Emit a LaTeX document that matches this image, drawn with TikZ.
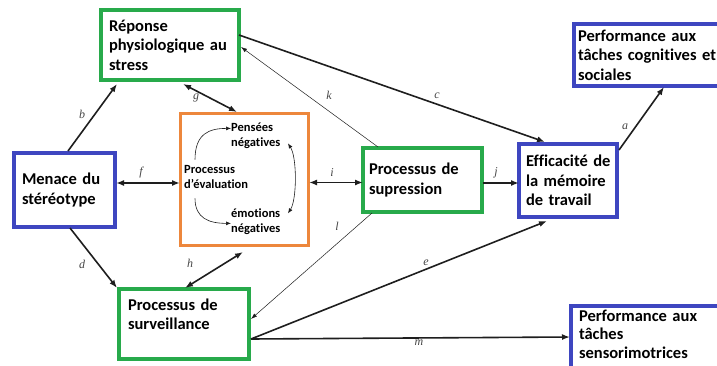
\documentclass[tikz,border=0pt]{standalone}
\usepackage{fontspec}
\setmainfont{Carlito}[Ligatures=NoCommon]
\newfontfamily\labfont{Liberation Serif}
\usetikzlibrary{arrows.meta,calc}
\definecolor{bgreen}{RGB}{40,170,75}
\definecolor{bblue}{RGB}{62,70,192}
\definecolor{borange}{RGB}{237,135,60}
\definecolor{lgray}{RGB}{70,70,70}
\definecolor{ink}{RGB}{30,30,30}
\begin{document}
\begin{tikzpicture}[x=1pt,y=-1pt,
  boxtext/.style={font=\bfseries\fontsize{16.5}{19.5}\selectfont,align=left},
  basebox/.style={rectangle,anchor=north west,line width=4pt,outer sep=0pt,inner ysep=0pt,boxtext},
  gbox/.style={basebox,draw=bgreen},
  bbox/.style={basebox,draw=bblue},
  obox/.style={rectangle,anchor=north west,line width=3pt,outer sep=0pt,draw=borange},
  itext/.style={font=\bfseries\fontsize{12.5}{15}\selectfont,align=left,inner sep=0pt,anchor=west},
  conn/.style={draw=ink,line width=1.6pt,-{Latex[length=8pt,width=6pt]}},
  dconn/.style={draw=ink,line width=1.6pt,{Latex[length=8pt,width=6pt]}-{Latex[length=8pt,width=6pt]}},
  tconn/.style={draw=ink,line width=0.5pt,-{Latex[length=6pt,width=4pt]}},
  iconn/.style={draw=ink,line width=0.6pt,-{Latex[length=5pt,width=4pt]}},
  idconn/.style={draw=ink,line width=0.6pt,{Latex[length=5pt,width=4pt]}-{Latex[length=5pt,width=4pt]}},
  lab/.style={font=\labfont\itshape\fontsize{12}{12}\selectfont,text=lgray,inner sep=0pt}
]
\useasboundingbox (0,0) rectangle (717,366);
\fill[white] (0,0) rectangle (717,366);

% boxes
\node[gbox,minimum width=138pt,minimum height=70pt,text width=122pt,inner xsep=8pt] (rep) at (101,10) {Réponse\\physiologique~au\\stress};
\node[bbox,minimum width=150pt,minimum height=62pt,text width=142pt,inner xsep=4pt] (perfC) at (574,24) {Performance~aux\\tâches~cognitives~et\\sociales};
\node[bbox,minimum width=101pt,minimum height=74pt,text width=85pt,inner xsep=8pt] (men) at (14,153) {Menace~du\\stéréotype};
\node[obox,minimum width=128pt,minimum height=131pt] (eval) at (180,114) {};
\node[gbox,minimum width=119pt,minimum height=64pt,text width=107pt,inner xsep=6pt] (sup) at (363,148) {Processus~de\\supression};
\node[bbox,minimum width=98pt,minimum height=73pt,text width=84pt,inner xsep=7pt] (eff) at (519,144) {Efficacité~de\\la~mémoire\\de~travail};
\node[gbox,minimum width=130pt,minimum height=70pt,text width=112pt,inner xsep=9pt] (surv) at (119,289) {Processus~de\\surveillance\\\mbox{}};
\node[bbox,minimum width=150pt,text width=134pt,inner xsep=8pt,inner ysep=4pt,font=\bfseries\fontsize{16.5}{18.5}\selectfont] (perfS) at (571,306) {Performance~aux\\tâches\\sensorimotrices\\\mbox{}};

% inner texts
\node[itext] (pens) at (231,135.5) {Pensées\\négatives};
\node[itext] (proc) at (184,176.5) {Processus\\d'évaluation};
\node[itext] (emo) at (231,221.5) {émotions\\négatives};

% inner arrows
\draw[iconn] ($(proc.north west)+(11,-5)$) .. controls +(0,-26) and +(-22,0) .. ($(pens.north west)+(0,6)$);
\draw[iconn] ($(proc.south west)+(11,10)$) .. controls +(0,20) and +(-22,0) .. ($(emo.north west)+(0,15)$);
\draw[idconn] ($(pens.north west)+(57,21)$) .. controls +(9,14) and +(9,-14) .. ($(emo.north west)+(57,5)$);

% connectors
\draw[conn] ($(men.north west)+(54,-2)$) -- ($(rep.south west)+(16,4)$);
\draw[conn] ($(men.south west)+(56,1)$) -- ($(surv.north west)+(-2,-1)$);
\coordinate (fA) at ($(men.east)+(1,-7)$);
\draw[dconn] (fA) -- (fA -| eval.west);
\draw[dconn] ($(rep.south west)+(82,4)$) -- ($(eval.north west)+(57,-2)$);
\draw[dconn] ($(surv.north west)+(66,-1)$) -- ($(eval.south west)+(63,7)$);
\coordinate (iA) at ($(eval.east)+(1,3)$);
\draw[dconn] (iA) -- (iA -| sup.west);
\coordinate (jA) at ($(sup.east)+(1,3)$);
\draw[conn] (jA) -- (jA -| eff.west);
\draw[tconn] ($(sup.north west)+(15,-1)$) -- ($(rep.north east)+(2,37)$);
\draw[tconn] ($(sup.south west)+(9,1)$) -- ($(surv.north east)+(2,30)$);
\draw[conn] ($(rep.north east)+(0,25)$) -- ($(eff.north west)+(26,-2)$);
\coordinate (sS) at ($(surv.north east)+(2,50)$);
\draw[conn] (sS) -- ($(eff.south west)+(28,4)$);
\draw[conn] (sS) -- ($(perfS.north west)+(-1,31)$);
\draw[conn] ($(eff.north east)+(2,6)$) -- ($(perfC.south west)+(90,1)$);

% labels
\node[lab] (lb) at (82,114) {b};
\node[lab] (ld) at (82,264) {d};
\node[lab] (lf) at (141,173) {f};
\node[lab] (lg) at (196,98) {g};
\node[lab] (lh) at (190,263) {h};
\node[lab] (li) at (332,173) {i};
\node[lab] (lj) at (496,173) {j};
\node[lab] (lk) at (329,95) {k};
\node[lab] (ll) at (337,226) {l};
\node[lab] (lc) at (437,96) {c};
\node[lab] (le) at (426,263) {e};
\node[lab] (lm) at (419,343) {m};
\node[lab] (la) at (625,127) {a};
\end{tikzpicture}
\end{document}
